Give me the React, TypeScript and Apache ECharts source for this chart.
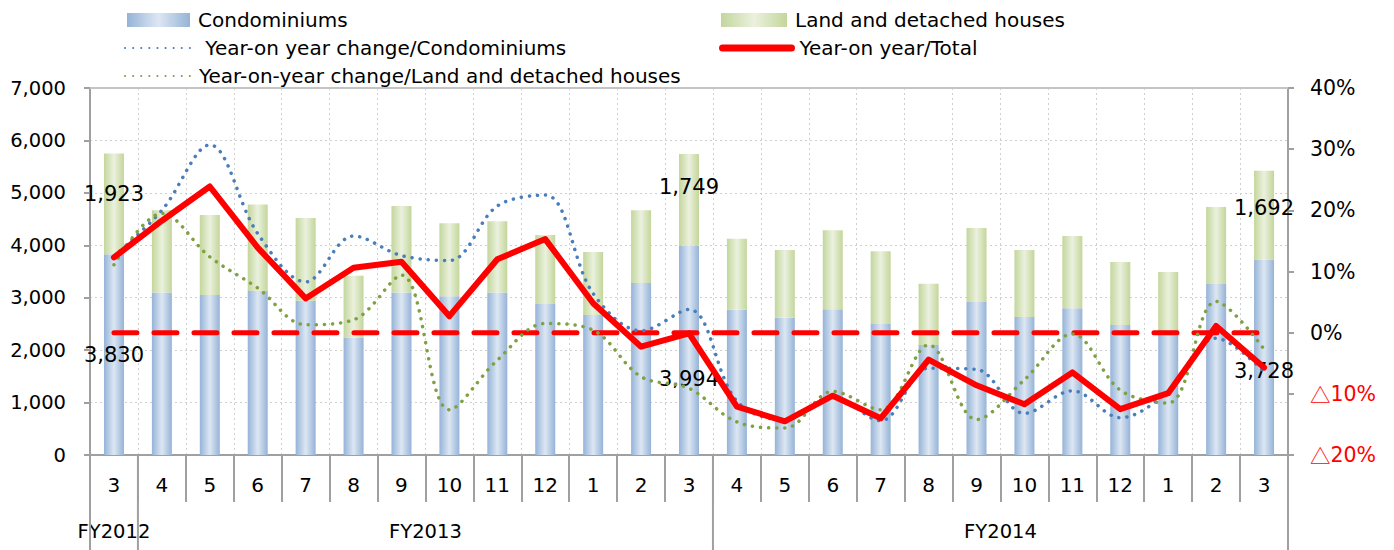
import React, { useEffect, useRef } from "react";
import * as echarts from "echarts";

const months = ["3", "4", "5", "6", "7", "8", "9", "10", "11", "12", "1", "2", "3", "4", "5", "6", "7", "8", "9", "10", "11", "12", "1", "2", "3"];
const condominiums = [3830, 3100, 3050, 3130, 2940, 2240, 3100, 3030, 3100, 2880, 2670, 3280, 3994, 2770, 2620, 2780, 2500, 2100, 2920, 2630, 2800, 2480, 2400, 3260, 3728];
const landHouses = [1923, 1570, 1530, 1650, 1580, 1180, 1650, 1390, 1360, 1315, 1200, 1390, 1749, 1355, 1290, 1505, 1385, 1165, 1410, 1280, 1375, 1200, 1090, 1470, 1692];
const yoyTotal = [12.3, 18.3, 23.9, 13.9, 5.6, 10.6, 11.6, 2.7, 12.0, 15.3, 4.8, -2.3, -0.1, -12.1, -14.5, -10.3, -14.0, -4.4, -8.6, -11.7, -6.5, -12.5, -9.9, 1.1, -5.7];
const yoyCondo = [12.5, 20.0, 30.7, 16.2, 8.3, 15.8, 12.6, 11.8, 20.7, 22.5, 6.4, 0.3, 3.8, -11.2, -14.3, -10.5, -14.4, -5.8, -6.0, -13.2, -9.5, -13.9, -9.6, -0.9, -6.4];
const yoyLand = [11.1, 19.5, 12.4, 7.3, 1.3, 2.1, 9.4, -12.6, -4.5, 1.5, 0.4, -7.2, -9.1, -14.6, -15.6, -9.6, -12.6, -2.0, -14.2, -7.7, -0.2, -9.4, -11.5, 5.1, -2.7];
const zeroLine = months.map(() => 0);

const fyLabels = ["FY2012", "FY2013", "FY2014"];
const fyLabelPos = [0, 6.5, 18.5];
const fyBoundaries = [-0.5, 0.5, 12.5, 24.5];

// labelled points
const labelIdx = [0, 12, 24];
const condoLabelOffset = [0, 29, 14];
const landLabelOffset = [-10, -13, -7];

const NAMES = {
  condo: "Condominiums",
  land: "Land and detached houses",
  yoyCondo: "Year-on year change/Condominiums",
  total: "Year-on year/Total",
  yoyLand: "Year-on-year change/Land and detached houses",
};

const FONT = "DejaVu Sans";

function fmt(n: number) {
  return n.toString().replace(/\B(?=(\d{3})+(?!\d))/g, ",");
}

export default function App() {
  const ref = useRef<HTMLDivElement>(null);
  useEffect(() => {
    if (!ref.current) return;
    const chart = echarts.init(ref.current, null, { renderer: "svg" });
    const blueGrad = new echarts.graphic.LinearGradient(0, 0, 1, 0, [
      { offset: 0, color: "#95b3d7" },
      { offset: 0.5, color: "#dde7f3" },
      { offset: 1, color: "#95b3d7" },
    ]);
    const greenGrad = new echarts.graphic.LinearGradient(0, 0, 1, 0, [
      { offset: 0, color: "#c3d69b" },
      { offset: 0.5, color: "#ebf1de" },
      { offset: 1, color: "#c3d69b" },
    ]);
    const mkData = (arr: number[], offsets: number[]) =>
      arr.map((v, i) => {
        const k = labelIdx.indexOf(i);
        if (k < 0) return v;
        return {
          value: v,
          label: {
            show: true,
            position: "inside",
            offset: [0, offsets[k]],
            formatter: (p: any) => fmt(p.value),
            color: "#000",
            fontSize: 21,
            fontFamily: FONT,
          },
        };
      });
    const legendBase = {
      orient: "horizontal",
      padding: 0,
      itemGap: 0,
      itemHeight: 14,
      textStyle: { fontSize: 20, fontFamily: FONT, color: "#000", padding: [0, 0, 0, 3] },
      selectedMode: false,
    };
    const noSym = { opacity: 0 };
    const gray = "#a0a0a0";
    const option: any = {
      animation: false,
      backgroundColor: "#fff",
      textStyle: { fontFamily: FONT },
      legend: [
        { ...legendBase, left: 127, top: 10, itemWidth: 63, data: [{ name: NAMES.condo, icon: "rect" }] },
        { ...legendBase, left: 721, top: 10, itemWidth: 66, data: [{ name: NAMES.land, icon: "rect" }] },
        { ...legendBase, left: 124, top: 38, itemWidth: 66, data: [{ name: NAMES.yoyCondo, itemStyle: noSym }], formatter: (n: string) => " " + n },
        { ...legendBase, left: 719, top: 38, itemWidth: 69, data: [{ name: NAMES.total, itemStyle: noSym, lineStyle: { width: 7 } }] },
        { ...legendBase, left: 124, top: 66, itemWidth: 66, data: [{ name: NAMES.yoyLand, itemStyle: noSym }] },
      ],
      grid: [
        { left: 90, right: 106, top: 88, bottom: 95, containLabel: false },
        { left: 90, right: 106, top: 455, bottom: 0, containLabel: false },
      ],
      xAxis: [
        {
          type: "category",
          data: months,
          position: "bottom",
          boundaryGap: true,
          axisLine: { show: true, onZero: false, lineStyle: { color: gray, width: 2 } },
          axisTick: { show: true, interval: 0, length: 47, lineStyle: { color: gray, width: 2 } },
          axisLabel: { interval: 0, margin: 20, fontSize: 20, fontFamily: FONT, color: "#000" },
          splitLine: { show: true, interval: 0, lineStyle: { color: "#cfcfcf", type: [2, 3], width: 1 } },
        },
        {
          type: "value",
          min: -0.5,
          max: 24.5,
          position: "bottom",
          axisLine: { show: false, onZero: false },
          splitLine: { show: false },
          axisTick: { show: false },
          axisLabel: {
            show: true,
            customValues: fyLabelPos,
            margin: 66,
            fontSize: 19.5,
            fontFamily: FONT,
            color: "#000",
            formatter: (v: number) => {
              const k = fyLabelPos.indexOf(v);
              return k >= 0 ? fyLabels[k] : "";
            },
          },
        },
        {
          type: "category",
          data: months,
          position: "top",
          axisLine: { show: true, onZero: false, lineStyle: { color: "#c4c4c4", width: 2 } },
          axisTick: { show: false },
          axisLabel: { show: false },
          splitLine: { show: false },
        },
        {
          type: "value",
          gridIndex: 1,
          min: -0.5,
          max: 24.5,
          show: false,
          axisLine: { onZero: false },
        },
      ],
      yAxis: [
        {
          type: "value",
          min: 0,
          max: 7000,
          interval: 1000,
          position: "left",
          axisLine: { show: true, onZero: false, lineStyle: { color: gray, width: 2 } },
          axisTick: { show: true, length: 6, lineStyle: { color: gray, width: 2 } },
          axisLabel: { margin: 24, fontSize: 19.5, fontFamily: FONT, color: "#000", formatter: (v: number) => fmt(v) },
          splitLine: { show: true, lineStyle: { color: "#cfcfcf", type: [2, 3], width: 1 } },
        },
        {
          type: "value",
          min: -20,
          max: 40,
          interval: 10,
          position: "right",
          axisLine: { show: true, onZero: false, lineStyle: { color: gray, width: 2 } },
          axisTick: { show: true, length: 6, lineStyle: { color: gray, width: 2 } },
          axisLabel: {
            margin: 22,
            fontSize: 20.5,
            fontFamily: FONT,
            color: "#000",
            formatter: (v: number) => (v < 0 ? `{tri|△}{neg|${-v}%}` : `${v}%`),
            rich: {
              tri: { color: "#ff0000", fontSize: 20.5, fontFamily: "Noto Sans CJK JP" },
              neg: { color: "#ff0000", fontSize: 20.5, fontFamily: FONT },
            },
          },
          splitLine: { show: false },
        },
        {
          type: "value",
          gridIndex: 1,
          min: 0,
          max: 1,
          show: false,
          axisLine: { onZero: false },
        },
      ],
      series: [
        {
          name: NAMES.condo,
          type: "bar",
          stack: "total",
          barWidth: 20,
          itemStyle: { color: blueGrad },
          data: mkData(condominiums, condoLabelOffset),
        },
        {
          name: NAMES.land,
          type: "bar",
          stack: "total",
          barWidth: 20,
          itemStyle: { color: greenGrad },
          data: mkData(landHouses, landLabelOffset),
        },
        {
          name: "zero",
          type: "line",
          yAxisIndex: 1,
          symbol: "none",
          lineStyle: { color: "#ff0000", width: 5, type: [23, 17], cap: "round" },
          data: zeroLine,
          silent: true,
        },
        {
          name: NAMES.yoyCondo,
          type: "line",
          yAxisIndex: 1,
          symbol: "none",
          smooth: 0.35,
          itemStyle: { color: "#4a7ebb" },
          lineStyle: { color: "#4a7ebb", width: 3.5, type: [0.1, 8], cap: "round" },
          data: yoyCondo,
        },
        {
          name: NAMES.yoyLand,
          type: "line",
          yAxisIndex: 1,
          symbol: "none",
          smooth: 0.35,
          itemStyle: { color: "#7fa142" },
          lineStyle: { color: "#7fa142", width: 3.5, type: [0.1, 8], cap: "round" },
          data: yoyLand,
        },
        {
          name: NAMES.total,
          type: "line",
          yAxisIndex: 1,
          symbol: "none",
          itemStyle: { color: "#ff0000" },
          lineStyle: { color: "#ff0000", width: 6, cap: "round", join: "round" },
          data: yoyTotal,
        },
        {
          name: "fyDividers",
          type: "custom",
          xAxisIndex: 3,
          yAxisIndex: 2,
          silent: true,
          data: fyBoundaries.map((b) => [b, 0]),
          renderItem: (params: any, api: any) => {
            const top = api.coord([api.value(0), 1]);
            const bottom = api.coord([api.value(0), 0]);
            return {
              type: "line",
              shape: { x1: top[0], y1: top[1], x2: bottom[0], y2: bottom[1] },
              style: { stroke: gray, lineWidth: 2 },
            };
          },
        },
      ],
    };
    chart.setOption(option);
    return () => chart.dispose();
  }, []);
  return <div ref={ref} style={{ position: "fixed", left: 0, top: 0, width: 1394, height: 550 }} />;
}
